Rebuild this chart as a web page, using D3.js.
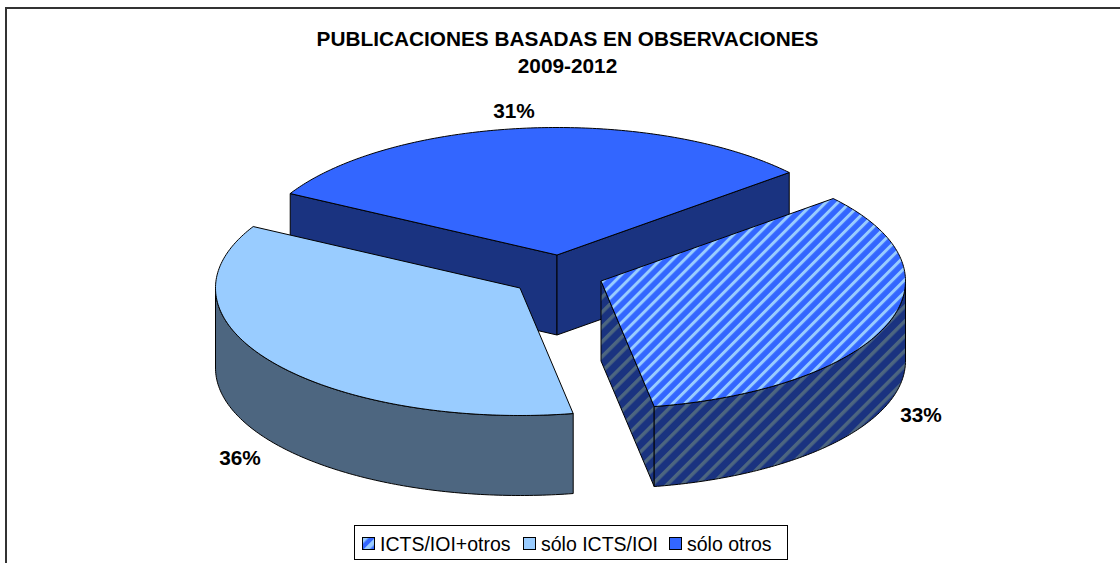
<!DOCTYPE html>
<html>
<head>
<meta charset="utf-8">
<script src="https://cdn.jsdelivr.net/npm/d3@7"></script>
<style>
html,body{margin:0;padding:0;background:#fff;overflow:hidden}
svg{display:block}
text{font-family:"Liberation Sans",Arial,sans-serif;fill:#000}
</style>
</head>
<body>
<div id="chart"></div>
<script>
const categories = ["ICTS/IOI+otros", "sólo ICTS/IOI", "sólo otros"];
const values = [33.4, 35.8, 30.8];
const titleLines = ["PUBLICACIONES BASADAS EN OBSERVACIONES", "2009-2012"];

const W = 1120, H = 563;
const rx = 304.5, ry = 127.5, depth = 80;
const firstAngle = 49.7 * Math.PI / 180;
const anchors = [{x:601,y:281},{x:520,y:288},{x:557,y:255}];
const labelPos = [{x:921,y:415},{x:240,y:458},{x:514,y:111}];
const drawOrder = [2,1,0];

const svg = d3.select("#chart").append("svg").attr("width",W).attr("height",H);
const defs = svg.append("defs");

function stripes(id, bg, fg, period, band){
  const p = defs.append("pattern").attr("id",id).attr("patternUnits","userSpaceOnUse")
    .attr("width",period).attr("height",period).attr("patternTransform","rotate(45)");
  p.append("rect").attr("width",period).attr("height",period).attr("fill",bg);
  p.append("rect").attr("width",band).attr("height",period).attr("fill",fg);
}
stripes("topHatch","#3366ff","#99ccff",8.5,3);
stripes("wallHatch","#1a3380","#4d6680",10.5,3.5);
stripes("keyHatch","#3366ff","#99ccff",9,4.5);

const topFill  = ["url(#topHatch)","#99ccff","#3366ff"];
const wallFill = ["url(#wallHatch)","#4d6680","#1a3380"];
const keyFill  = ["url(#keyHatch)","#99ccff","#3366ff"];

// frame: only the top and left edges fall inside the picture
svg.append("path").attr("d",`M6,${H}V8H${W}`).attr("fill","none").attr("stroke","#333").attr("stroke-width",2);

const pie = d3.pie().sort(null).value(d=>d).startAngle(firstAngle).endAngle(firstAngle+2*Math.PI);
const arcs = pie(values);
const px = a => rx*Math.sin(a), py = a => -ry*Math.cos(a);
const line = d3.line().x(d=>d[0]).y(d=>d[1]);
const rim = (a0,a1,n) => d3.range(0,n+1).map(t=>a0+(a1-a0)*t/n);

drawOrder.forEach(i=>{
  const d = arcs[i], c = anchors[i];
  const g = svg.append("g").attr("transform",`translate(${c.x},${c.y})`);
  const face = (pts,fill) => g.append("path").attr("d",line(pts)+"Z").attr("fill",fill)
    .attr("stroke","#000").attr("stroke-width",1).attr("stroke-linejoin","round");

  // radial walls that face the viewer
  const radial = i===2 ? [d.startAngle,d.endAngle] : i===0 ? [d.endAngle] : [];
  radial.forEach(a=>face([[0,0],[px(a),py(a)],[px(a),py(a)+depth],[0,depth]],wallFill[i]));

  // outer curved wall, only the front half of the ellipse
  const a0 = Math.max(d.startAngle, Math.PI/2), a1 = Math.min(d.endAngle, 3*Math.PI/2);
  if(i!==2 && a1>a0){
    const s = rim(a0,a1,120);
    face(s.map(a=>[px(a),py(a)]).concat(s.slice().reverse().map(a=>[px(a),py(a)+depth])),wallFill[i]);
  }

  // top face
  face([[0,0]].concat(rim(d.startAngle,d.endAngle,160).map(a=>[px(a),py(a)])),topFill[i]);
});

// title
svg.append("g").selectAll("text").data(titleLines).join("text")
  .attr("x",567.5).attr("y",(d,i)=>45.5+i*27).attr("text-anchor","middle")
  .attr("font-size",20.8).attr("font-weight","bold").text(d=>d);

// value labels
svg.append("g").selectAll("text").data(values).join("text")
  .attr("x",(d,i)=>labelPos[i].x).attr("y",(d,i)=>labelPos[i].y).attr("dy","0.35em")
  .attr("text-anchor","middle").attr("font-size",20.8).attr("font-weight","bold")
  .text(d=>Math.round(d)+"%");

// legend
svg.append("rect").attr("x",354.5).attr("y",525.5).attr("width",433).attr("height",34)
  .attr("fill","#fff").attr("stroke","#000").attr("stroke-width",1);
const keyX = d3.scaleOrdinal().domain(categories).range([362.5,523.5,669.5]);
const lg = svg.append("g").selectAll("g").data(categories).join("g")
  .attr("transform",d=>`translate(${keyX(d)},537.5)`);
lg.append("rect").attr("width",12).attr("height",12).attr("fill",(d,i)=>keyFill[i])
  .attr("stroke","#000").attr("stroke-width",1);
lg.append("text").attr("x",17.5).attr("y",13).attr("font-size",19.5).text(d=>d);
</script>
</body>
</html>
